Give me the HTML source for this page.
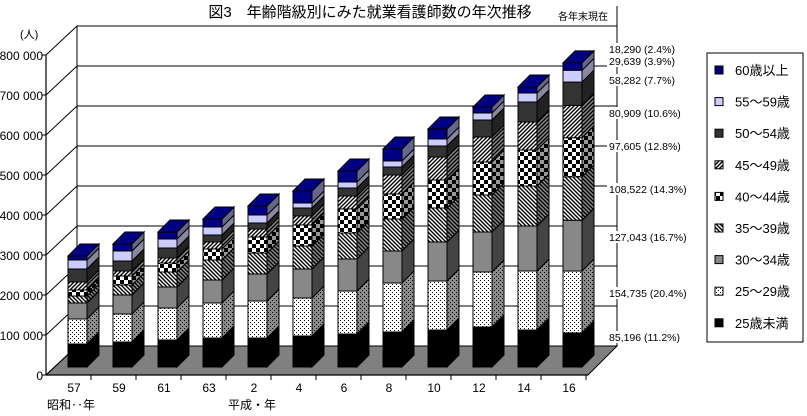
<!DOCTYPE html>
<html><head><meta charset="utf-8"><style>
body{margin:0;background:#fff;}
svg text{font-family:"Liberation Sans","Noto Sans CJK JP",sans-serif;}
</style></head><body>
<svg id="chart" width="807" height="411" viewBox="0 0 807 411" xmlns="http://www.w3.org/2000/svg">
<defs>
<pattern id="p1" width="4" height="4" patternUnits="userSpaceOnUse"><rect width="4" height="4" fill="#fff"/><rect x="0" y="0" width="1" height="1" fill="#000"/><rect x="2" y="2" width="1" height="1" fill="#000"/></pattern>
<pattern id="p3" width="4" height="4" patternUnits="userSpaceOnUse"><rect width="4" height="4" fill="#fff"/><path d="M-1,-1 L5,5 M-1,3 L1,5 M3,-1 L5,1" stroke="#000" stroke-width="1.4"/></pattern>
<pattern id="p4" width="8" height="8" patternUnits="userSpaceOnUse"><rect width="8" height="8" fill="#fff"/><rect width="4" height="4" fill="#000"/><rect x="4" y="4" width="4" height="4" fill="#000"/></pattern>
<pattern id="p5" width="4" height="4" patternUnits="userSpaceOnUse"><rect width="4" height="4" fill="#fff"/><path d="M-1,5 L5,-1 M-1,1 L1,-1 M3,5 L5,3" stroke="#000" stroke-width="1.4"/></pattern>
</defs>
<g id="frame"></g>
<g id="bars"></g>
<g id="labels"></g>
</svg>
<script>
const years = ['57','59','61','63','2','4','6','8','10','12','14','16'];
const ageGroups = ['25歳未満','25～29歳','30～34歳','35～39歳','40～44歳','45～49歳','50～54歳','55～59歳','60歳以上'];
const under25 = [57500,62500,67500,72500,72500,77500,82500,87500,92500,100000,92500,85196];
const age25 = [62500,70000,80000,87500,92500,95000,107500,122500,122500,137500,147500,154735];
const age30 = [40000,47500,52500,57500,67500,72500,80000,80000,97500,100000,112500,127043];
const age35 = [17500,25000,37500,50000,52500,57500,65000,80000,85000,92500,100000,108522];
const age40 = [15000,22500,22500,27500,40000,52500,60000,62500,70000,82500,90000,97605];
const age45 = [20000,12500,12500,17500,20000,22500,32500,47500,57500,62500,70000,80909];
const age50 = [32500,25000,25000,17500,15000,20000,20000,20000,27500,42500,50000,58282];
const age55 = [22500,25000,22500,20000,20000,12500,15000,15000,17500,17500,22500,29639];
const age60 = [10000,17500,17500,20000,22500,30000,27500,30000,25000,15000,15000,18290];
const yTicks = ['0','100 000','200 000','300 000','400 000','500 000','600 000','700 000','800 000'];
const lastLabels = ['85,196 (11.2%)','154,735 (20.4%)','127,043 (16.7%)','108,522 (14.3%)','97,605 (12.8%)','80,909 (10.6%)','58,282 (7.7%)','29,639 (3.9%)','18,290 (2.4%)'];

const series = [under25,age25,age30,age35,age40,age45,age50,age55,age60];
const fills = ['#000','url(#p1)','#888','url(#p3)','url(#p4)','url(#p5)','#333','#ccf','#000080'];
const sideFills = ['#000','url(#p1)','#444','url(#p3)','url(#p4)','url(#p5)','#222','#8888a0','#66668a'];
const sideShade = [0,0.45,0,0.45,0.4,0.45,0,0,0];
const NS='http://www.w3.org/2000/svg';
function mk(tag,attrs,parent){const e=document.createElementNS(NS,tag);for(const k in attrs)e.setAttribute(k,attrs[k]);parent.appendChild(e);return e;}
const frame=document.getElementById('frame'), barsG=document.getElementById('bars'), lab=document.getElementById('labels');
const FRONT0=375, BACK0=346, PPV=320/800000;
function yBack(v){return BACK0-v*PPV;}
function yFront(v){return FRONT0-v*PPV;}
const BAR0=367;
function yBar(v){return BAR0-v*PPV;}
function xBar(i){return 68+i*45;}
const BW=19, DX=12, DY=12;

let e=mk('polygon',{points:'46,375 588,375 617,346 77,346',fill:'#808080',stroke:'#000','stroke-width':1},frame);

e=mk('rect',{x:77,y:yBack(800000),width:540,height:BACK0-yBack(800000),fill:'#fff',stroke:'#000','stroke-width':1},frame);

for(let k=0;k<yTicks.length;k++){
  const v=k*100000;
  if(k>0){e=mk('line',{x1:77,y1:yBack(v),x2:617,y2:yBack(v),stroke:'#000','stroke-width':1},frame);
  }
  e=mk('line',{x1:46,y1:yFront(v),x2:77,y2:yBack(v),stroke:'#000','stroke-width':1},frame);
  
  e=mk('line',{x1:42,y1:yFront(v),x2:46,y2:yFront(v),stroke:'#000'},frame);
  
  e=mk('text',{x:43,y:yFront(v)+5,'text-anchor':'end','font-size':12},frame);
  e.textContent=yTicks[k];
  
}
e=mk('line',{x1:46,y1:yFront(800000),x2:46,y2:375,stroke:'#000','stroke-width':1.2},frame);

e=mk('line',{x1:46,y1:375,x2:588,y2:375,stroke:'#000','stroke-width':1.2},frame);


years.forEach((yr,i)=>{
  e=mk('line',{x1:91+i*45,y1:375,x2:91+i*45,y2:380,stroke:'#000'},frame);
  
  e=mk('text',{x:xBar(i)+6,y:392,'text-anchor':'middle','font-size':12},frame);
  e.textContent=yr;
  
  const g=mk('g',{},barsG);
  
  let cum=0; const x=xBar(i);
  series.forEach((s,j)=>{
    const yb=yBar(cum), yt=yBar(cum+s[i]); cum+=s[i];
    e=mk('rect',{x:x,y:yt,width:BW,height:yb-yt,fill:fills[j],stroke:'#000','stroke-width':1},g);
    
    const pts=`${x+BW},${yb} ${x+BW+DX},${yb-DY} ${x+BW+DX},${yt-DY} ${x+BW},${yt}`;
    e=mk('polygon',{points:pts,fill:sideFills[j],stroke:'#000','stroke-width':1},g);
    
    if(sideShade[j]>0){
      e=mk('polygon',{points:pts,fill:'#000','fill-opacity':sideShade[j],stroke:'#000','stroke-width':1},g);
      
    }
  });
  const yt=yBar(cum);
  e=mk('polygon',{points:`${x},${yt} ${x+DX},${yt-DY} ${x+BW+DX},${yt-DY} ${x+BW},${yt}`,fill:'#000080',stroke:'#000','stroke-width':1},g);
  
});

e=mk('line',{x1:617,y1:yBack(800000)-20,x2:617,y2:346,stroke:'#000'},frame);

const lblY=[340,296,240,192,149,116,83,64,52];
lastLabels.forEach((t,j)=>{
  const w=t.length*6.2;
  e=mk('rect',{x:607,y:lblY[j]-9,width:w,height:12,fill:'#fff'},lab);
  
  e=mk('text',{x:609,y:lblY[j]+1,'font-size':10.5},lab);
  e.textContent=t;
  
});

const leg=mk('g',{},lab);

mk('rect',{x:707,y:53,width:96,height:289,fill:'#fff',stroke:'#000'},leg);
for(let j=0;j<9;j++){
  const k=8-j, cy=70+j*31.6;
  e=mk('rect',{x:715,y:cy-4,width:8,height:8,fill:fills[k],stroke:'#000'},leg);
  
  e=mk('text',{x:735,y:cy+5,'font-size':13},leg);
  e.textContent=ageGroups[k];
  
}
e=mk('text',{x:370,y:17,'text-anchor':'middle','font-size':15},lab);
e.textContent='図3　年齢階級別にみた就業看護師数の年次推移';

e=mk('text',{x:558,y:20,'font-size':10},lab);
e.textContent='各年末現在';

e=mk('text',{x:20,y:38,'font-size':11},lab);
e.textContent='(人)';

e=mk('text',{x:47,y:409,'font-size':12},lab);
e.textContent='昭和‥年';

e=mk('text',{x:228,y:409,'font-size':12},lab);
e.textContent='平成・年';

</script>
</body></html>
